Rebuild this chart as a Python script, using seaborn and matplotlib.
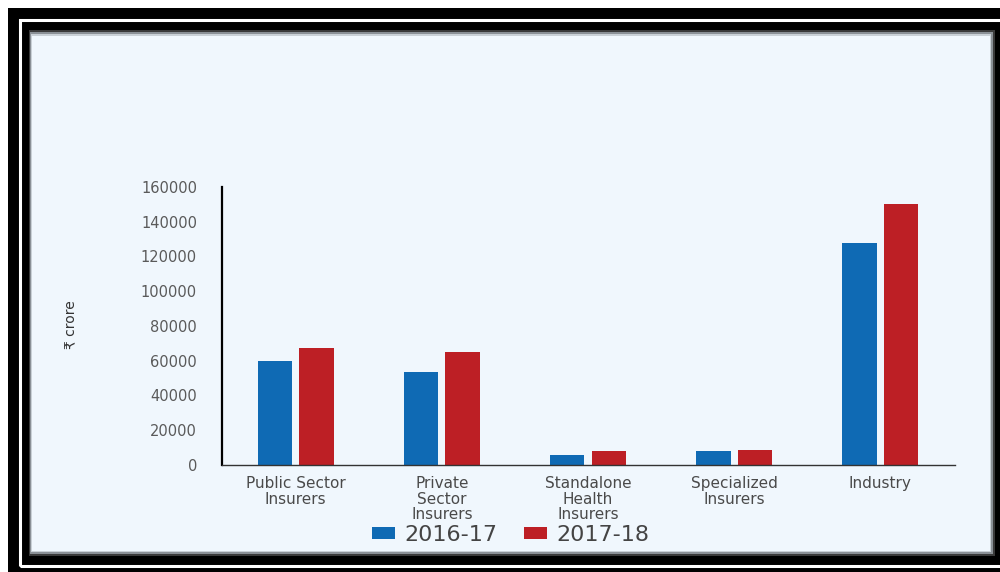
import matplotlib
matplotlib.use("Agg")
import matplotlib.pyplot as plt
from matplotlib.patches import Rectangle
import seaborn as sns
import pandas as pd

categories = ["Public Sector\nInsurers", "Private\nSector\nInsurers", "Standalone\nHealth\nInsurers",
              "Specialized\nInsurers", "Industry"]
values_2016_17 = [60000, 53600, 5600, 8000, 127700]
values_2017_18 = [67500, 65000, 8000, 8800, 150200]
series = ["2016-17", "2017-18"]
yticks = [0, 20000, 40000, 60000, 80000, 100000, 120000, 140000, 160000]

df = pd.DataFrame({
    "category": categories * 2,
    "value": values_2016_17 + values_2017_18,
    "year": [series[0]] * len(categories) + [series[1]] * len(categories),
})

sns.set_theme(style="white")
plt.rcParams["font.family"] = ["DejaVu Sans"]

W, H = 1000, 572
fig = plt.figure(figsize=(W / 100, H / 100), dpi=100, facecolor="white")


def frect(x0, y0, x1, y1, **kw):
    r = Rectangle((x0 / W, 1 - y1 / H), (x1 - x0) / W, (y1 - y0) / H,
                  transform=fig.transFigure, **kw)
    fig.add_artist(r)
    r.set_zorder(-10)
    return r

# decorative frame
frect(8, 8, 1040, 600, facecolor="black", edgecolor="none")
frect(20, 20, 1040, 566, facecolor="none", edgecolor="white", linewidth=2.2)
frect(24, 24, 1030, 562, facecolor="black", edgecolor="none")
frect(29, 30, 995, 556, facecolor="#3a3a3a", edgecolor="none")
frect(30, 32, 993, 554, facecolor="#8a9096", edgecolor="none")
frect(31, 34, 991, 552, facecolor="#c9d0d6", edgecolor="none")
frect(32, 36, 990, 551, facecolor="#F0F7FD", edgecolor="none")

ax = fig.add_axes([0.222, 1 - 465 / H, 0.733, 278 / H])
ax.set_facecolor("none")

sns.barplot(data=df, x="category", y="value", hue="year", order=categories,
            hue_order=series, palette=["#0F6AB4", "#BD1F25"], saturation=1,
            width=0.57, gap=0.17, errorbar=None, linewidth=0, ax=ax, legend=True)

ax.set_xlim(-0.505, 4.512)
ax.set_ylim(0, 160000)
ax.set_yticks(yticks)
ax.set_yticklabels([str(v) for v in yticks])
ax.tick_params(axis="y", length=0, pad=18, labelsize=10.5, labelcolor="#5a5a5a")
ax.tick_params(axis="x", length=0, pad=8, labelsize=11, labelcolor="#4a4a4a")
for lbl in ax.get_xticklabels():
    lbl.set_linespacing(1.05)

for s in ["top", "right"]:
    ax.spines[s].set_visible(False)
ax.spines["left"].set_color("black")
ax.spines["left"].set_linewidth(1.6)
ax.spines["bottom"].set_color("#333333")
ax.spines["bottom"].set_linewidth(1.0)

ax.set_xlabel("")
ax.set_ylabel("₹ crore", fontsize=10, color="#333333")
ax.yaxis.set_label_coords(-0.196, 0.504)

leg = ax.legend(loc="center", bbox_to_anchor=(0.511, 1 - 535 / H),
                bbox_transform=fig.transFigure, ncol=2, frameon=False,
                fontsize=16, handlelength=1.0, handleheight=0.42,
                handletextpad=0.45, columnspacing=1.2)
for t in leg.get_texts():
    t.set_color("#444444")

fig.savefig("out.png", dpi=100, facecolor=fig.get_facecolor())
